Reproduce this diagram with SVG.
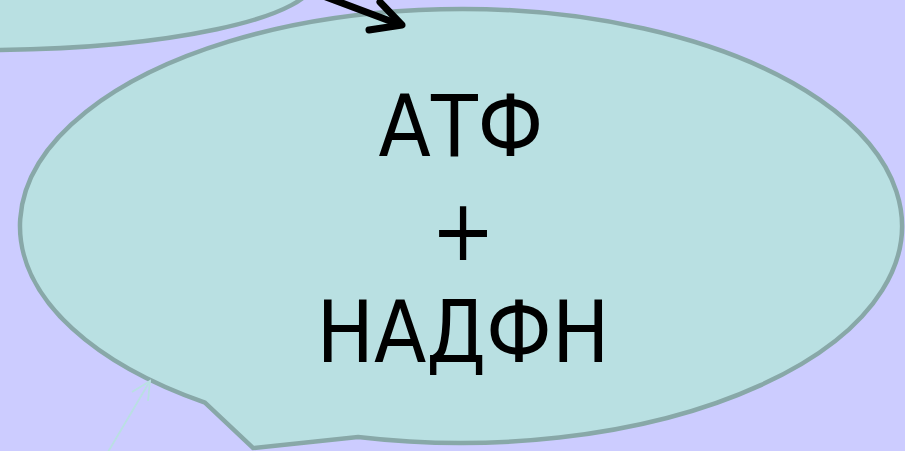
<svg xmlns="http://www.w3.org/2000/svg" width="905" height="451" viewBox="0 0 905 451">
<style>
.node{fill:#b9e0e2;stroke:#88a8a8;stroke-width:4.5}
.lbl{font-family:"DejaVu Sans Condensed","DejaVu Sans",sans-serif;font-stretch:condensed;font-size:85px;fill:#000;text-anchor:middle}
</style>
<rect x="0" y="0" width="905" height="451" fill="#ccccff"/>
<g id="node-prev">
<ellipse class="node" cx="-20" cy="-21" rx="335" ry="71"/>
</g>
<g id="node-atf">
<path class="node" d="M205,402.7 A441,217 0 1 1 358,437 L253,448 Z"/>
<text class="lbl" x="461" y="156">АТФ</text>
<text class="lbl" x="463" y="260">+</text>
<text class="lbl" x="463" y="362">НАДФН</text>
</g>
<g id="connectors">
<g fill="none" stroke="#000" stroke-width="7" stroke-linecap="round" stroke-linejoin="round">
<path d="M318,-6 L398,24"/>
<path d="M369,30 L402,25 L380,2"/>
</g>
<g fill="none" stroke="#b9e0e2" stroke-width="1.8">
<path d="M108,452 L150,381"/>
<path d="M132,392 L150,381 L148,401"/>
</g>
</g>
</svg>
